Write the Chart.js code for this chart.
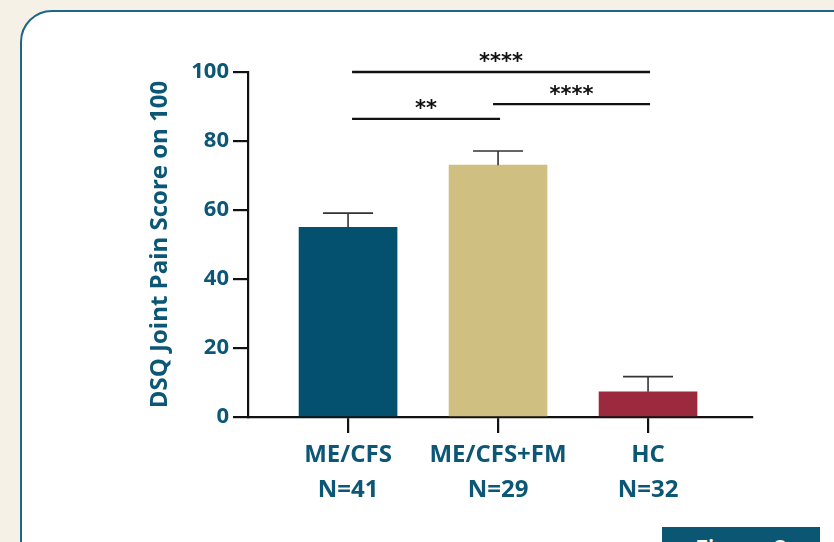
<!DOCTYPE html>
<html>
<head>
<meta charset="utf-8">
<script src="https://cdn.jsdelivr.net/npm/chart.js@4.4.1/dist/chart.umd.min.js"></script>
<style>
  html, body { margin: 0; padding: 0; }
  body { width: 834px; height: 542px; background: #f5f1e6; overflow: hidden; position: relative; }
  .card {
    position: absolute; left: 20px; top: 10px; width: 900px; height: 620px;
    background: #fff; border: 2px solid #1d6688; border-radius: 32px; box-sizing: border-box;
  }
  .fig {
    position: absolute; left: 662px; top: 527px; width: 158px; height: 40px;
    background: #0b5673; color: #fff; font: 600 24px "Open Sans", sans-serif;
    text-align: center; line-height: 24px; padding-top: 9px; box-sizing: border-box;
  }
  #chart { position: absolute; left: 0; top: 0; }
</style>
</head>
<body>
<div class="card"></div>
<div class="fig">Figure 8</div>
<canvas id="chart" width="834" height="542"></canvas>
<script>
// values
const categories = ['ME/CFS', 'ME/CFS+FM', 'HC'];
const counts = [41, 29, 32];
const means = [55, 73, 7.3];
const errHigh = [59.1, 77.1, 11.7];
const barColors = ['#03506f', '#cfbf80', '#9b2a3e'];
const yTicks = [0, 20, 40, 60, 80, 100];

// significance brackets
const sigFrom = [0, 0, 1];
const sigTo = [2, 1, 2];
const sigLevel = [100, 86.4, 90.7];
const sigLabel = ['****', '**', '****'];

const teal = '#0c5776';

const extras = {
  id: 'extras',
  afterDatasetsDraw(chart) {
    const ctx = chart.ctx;
    const x = chart.scales.x, y = chart.scales.y;
    ctx.save();
    // error bars (upper only)
    ctx.strokeStyle = '#333';
    ctx.lineWidth = 1.6;
    errHigh.forEach((e, i) => {
      const px = x.getPixelForValue(i);
      const top = y.getPixelForValue(e);
      const base = y.getPixelForValue(means[i]);
      ctx.beginPath();
      ctx.moveTo(px, base);
      ctx.lineTo(px, top);
      ctx.moveTo(px - 25, top);
      ctx.lineTo(px + 25, top);
      ctx.stroke();
    });
    // brackets
    ctx.strokeStyle = '#111';
    ctx.lineWidth = 2.4;
    ctx.fillStyle = '#111';
    ctx.font = 'bold 21px "DejaVu Sans"';
    ctx.textAlign = 'center';
    ctx.textBaseline = 'middle';
    sigFrom.forEach((f, i) => {
      const x1 = x.getPixelForValue(f) + (i === 2 ? -5 : 4);
      const x2 = x.getPixelForValue(sigTo[i]) + 2;
      const py = y.getPixelForValue(sigLevel[i]);
      ctx.beginPath();
      ctx.moveTo(x1, py);
      ctx.lineTo(x2, py);
      ctx.stroke();
      ctx.fillText(sigLabel[i], (x1 + x2) / 2, py - 9);
    });
    ctx.restore();
  }
};

new Chart(document.getElementById('chart'), {
  type: 'bar',
  data: {
    datasets: [{
      data: means.map((v, i) => ({ x: i, y: v })),
      backgroundColor: barColors,
      barThickness: 98,
      borderWidth: 0
    }]
  },
  options: {
    responsive: false,
    animation: false,
    layout: { padding: { left: 146, right: 82, top: 72, bottom: 0 } },
    plugins: { legend: { display: false }, tooltip: { enabled: false } },
    scales: {
      x: {
        type: 'linear',
        offset: false,
        min: -0.667,
        max: 2.693,
        afterBuildTicks(s) { s.ticks = categories.map((c, i) => ({ value: i })); },
        afterFit(s) { s.height = 125; },
        grid: { offset: false, drawOnChartArea: false, drawTicks: true, tickLength: 16, color: '#111', lineWidth: 2.2 },
        border: { color: '#111', width: 2.2 },
        ticks: {
          color: teal,
          font: { family: 'Open Sans', size: 24, weight: '700', lineHeight: 1.45 },
          padding: 5,
          maxRotation: 0,
          autoSkip: false,
          callback: (v) => [categories[v], 'N=' + counts[v]]
        }
      },
      y: {
        min: 0,
        max: 100,
        afterBuildTicks(s) { s.ticks = yTicks.map(v => ({ value: v })); },
        afterFit(s) { s.width = 102; },
        grid: { drawOnChartArea: false, drawTicks: true, tickLength: 15, color: '#111', lineWidth: 2.2 },
        border: { color: '#111', width: 2.2 },
        ticks: {
          color: teal,
          font: { family: 'Open Sans', size: 22, weight: '700' },
          padding: 4
        },
        title: {
          display: true,
          text: 'DSQ Joint Pain Score on 100',
          color: teal,
          font: { family: 'Open Sans', size: 24, weight: '700' },
          padding: { top: 0, bottom: 4 }
        }
      }
    }
  },
  plugins: [extras]
});
</script>
</body>
</html>
